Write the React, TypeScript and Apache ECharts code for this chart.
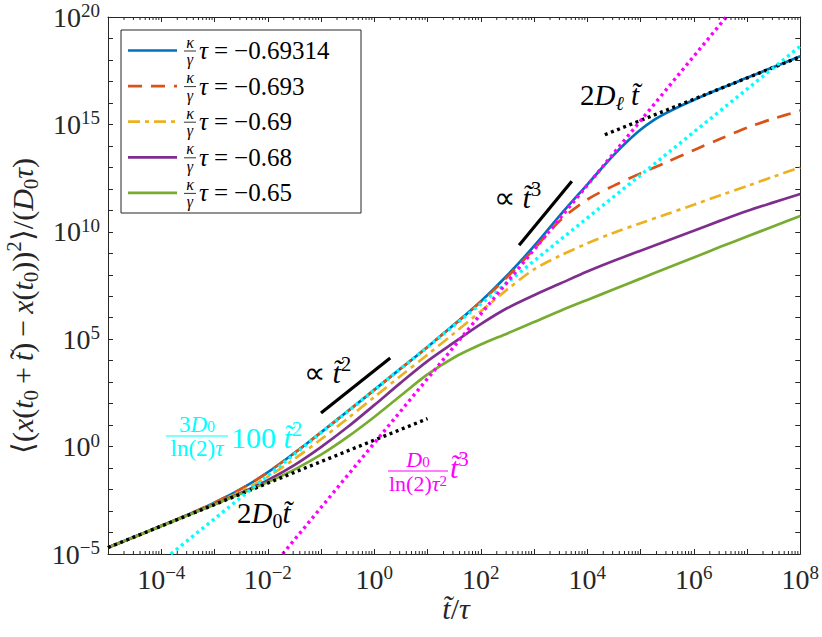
import React, { useEffect, useRef } from 'react';
import * as echarts from 'echarts';

// log10 of t/tau
const logT = [-5, -4.5, -4, -3.5, -3, -2.5, -2, -1.5, -1, -0.5, 0, 0.5, 1, 1.5, 2, 2.5, 3, 3.5, 4, 4.5, 5, 5.5, 6, 6.5, 7, 7.5, 8];
// finer sampling for the critical curve around its crossover
const logTCritical = [-5, -4.5, -4, -3.5, -3, -2.5, -2, -1.5, -1, -0.5, 0, 0.5, 1, 1.5, 2, 2.5, 3, 3.5, 4, 4.25, 4.5, 4.75, 5, 5.25, 5.5, 5.75, 6, 6.5, 7, 7.5, 8];
// log10 of MSD/(D0 tau) for each kappa/gamma*tau
const msd069314 = [-4.7, -4.2, -3.69, -3.17, -2.61, -1.97, -1.2, -0.3, 0.66, 1.645, 2.64, 3.64, 4.64, 5.68, 6.76, 7.98, 9.33, 10.8, 12.2, 12.9, 13.58, 14.2, 14.75, 15.2, 15.55, 15.86, 16.14, 16.67, 17.17, 17.67, 18.17];
const msd0693 = [-4.7, -4.2, -3.69, -3.17, -2.61, -1.97, -1.2, -0.3, 0.66, 1.645, 2.64, 3.64, 4.64, 5.68, 6.74, 7.9, 9.2, 10.55, 11.5, 12.15, 12.72, 13.25, 13.8, 14.33, 14.85, 15.27, 15.64];
const msd069 = [-4.7, -4.2, -3.695, -3.186, -2.658, -2.08, -1.4, -0.58, 0.342, 1.31, 2.305, 3.3, 4.28, 5.28, 6.3, 7.32, 8.25, 8.9, 9.46, 9.96, 10.4, 10.83, 11.26, 11.7, 12.13, 12.57, 13.0];
const msd068 = [-4.7, -4.2, -3.7, -3.19, -2.683, -2.15, -1.56, -0.86, -0.022, 0.91, 1.93, 2.98, 3.98, 4.85, 5.7, 6.45, 7.05, 7.6, 8.15, 8.65, 9.12, 9.58, 10.05, 10.52, 10.97, 11.37, 11.76];
const msd065 = [-4.7, -4.2, -3.7, -3.2, -2.695, -2.184, -1.654, -1.07, -0.377, 0.452, 1.38, 2.38, 3.36, 4.15, 4.75, 5.27, 5.8, 6.33, 6.83, 7.32, 7.82, 8.32, 8.8, 9.3, 9.78, 10.26, 10.74];

// guide lines (log10 endpoints)
const diffT = [-5, 1];
const diffY = [-4.7, 1.3];
const cyanT = [-3.82, 8];
const cyanY = [-5, 18.64];
const magT = [-1.72, 6.61];
const magY = [-5, 20];
const longT = [4.33, 8];
const longY = [14.52, 18.15];
const sq2T = [-1.0, 0.3];
const sq2Y = [1.56, 4.12];
const cu3T = [2.72, 3.71];
const cu3Y = [9.37, 12.35];

const legendValues = ['−0.69314', '−0.693', '−0.69', '−0.68', '−0.65'];
const xLabelExps = [-4, -2, 0, 2, 4, 6, 8];
const yLabelExps = [-5, 0, 5, 10, 15, 20];
const minorMantissas = [2, 3, 4, 5, 6, 7, 8, 9];
const xDecades = [-5, -4, -3, -2, -1, 0, 1, 2, 3, 4, 5, 6, 7];

const FONT = "'Liberation Serif', 'Times New Roman', serif";
const AX = '#262626';
const COLORS = ['#0072BD', '#D95319', '#EDB120', '#7E2F8E', '#77AC30'];
const DASHES: any[] = ['solid', [14, 9], [12, 5, 4, 5], 'solid', 'solid'];

function rich(size: number, color: string, L: number) {
  const s = Math.round(size * 0.7);
  const hSub = Math.max(1, L - 0.6 * size);
  const hSup = Math.max(1, L - 0.72 * size);
  const base = { fontFamily: FONT, fill: color, color };
  return {
    n: { ...base, fontSize: size, lineHeight: L },
    i: { ...base, fontSize: size, fontStyle: 'italic', lineHeight: L },
    op: { ...base, fontSize: size, lineHeight: L, padding: [0, 6, 0, 6] },
    sb: { ...base, fontSize: s, lineHeight: hSub, verticalAlign: 'bottom' },
    sbi: { ...base, fontSize: s, fontStyle: 'italic', lineHeight: hSub, verticalAlign: 'bottom' },
    sp: { ...base, fontSize: s, lineHeight: hSup, verticalAlign: 'top' },
  };
}

function txt(x: number, y: number, text: string, size: number, color: string, align = 'left', rotation = 0, lh = 0) {
  const L = lh || Math.round(size * 1.25);
  return {
    type: 'text',
    x,
    y,
    rotation,
    z: 100,
    style: { text, rich: rich(size, color, L), align, verticalAlign: 'middle', fill: color, fontFamily: FONT, fontSize: size },
  };
}

function pts(t: number[], y: number[]) {
  return t.map((v, i) => [v, y[i]]);
}

export default function App() {
  const ref = useRef<HTMLDivElement>(null);
  useEffect(() => {
    document.body.style.margin = '0';
    const chart = echarts.init(ref.current!, null, { renderer: 'svg' });

    const curves = [msd069314, msd0693, msd069, msd068, msd065];
    const grids = [logTCritical, logT, logT, logT, logT];
    const curveSeries = curves.map((c, k) => ({
      type: 'line',
      data: pts(grids[k], c),
      showSymbol: false,
      smooth: 0.3,
      silent: true,
      z: 2 + k * 0.01,
      lineStyle: { color: COLORS[k], width: 2.7, type: DASHES[k], cap: 'butt' },
    }));

    const dotted = (t: number[], y: number[], color: string) => ({
      type: 'line',
      data: pts(t, y),
      showSymbol: false,
      silent: true,
      z: 4,
      lineStyle: { color, width: 3.4, type: [3, 3.6], cap: 'butt' },
    });
    const solid = (t: number[], y: number[]) => ({
      type: 'line',
      data: pts(t, y),
      showSymbol: false,
      silent: true,
      z: 4,
      lineStyle: { color: '#000', width: 3.2 },
    });

    const minorVals: number[][] = [];
    xDecades.forEach((d) => minorMantissas.forEach((m) => minorVals.push([d + Math.log10(m), -5])));

    const minorSeries = {
      type: 'custom',
      silent: true,
      z: 5,
      clip: false,
      data: minorVals,
      renderItem: (params: any, api: any) => {
        const v = api.value(0);
        const b = api.coord([v, -5]);
        const t = api.coord([v, 20]);
        return {
          type: 'group',
          children: [
            { type: 'line', shape: { x1: b[0], y1: b[1], x2: b[0], y2: b[1] - 3 }, style: { stroke: AX, lineWidth: 1 } },
            { type: 'line', shape: { x1: t[0], y1: t[1], x2: t[0], y2: t[1] + 3 }, style: { stroke: AX, lineWidth: 1 } },
          ],
        };
      },
    };

    const fmtExp = (e: number) => `{b|10}{s|${e < 0 ? '−' + -e : e}}`;
    const labelRich = {
      b: { fontFamily: FONT, fontSize: 28, lineHeight: 32, color: AX },
      s: { fontFamily: FONT, fontSize: 19, lineHeight: 12, verticalAlign: 'top', color: AX },
    };

    const baseX = {
      type: 'value',
      min: -5,
      max: 8,
      interval: 1,
      splitLine: { show: false },
      axisLine: { show: true, onZero: false, lineStyle: { color: AX, width: 1 } },
      axisTick: { show: true, inside: true, length: 5, lineStyle: { color: AX, width: 1 } },
    };
    const baseY = {
      type: 'value',
      min: -5,
      max: 20,
      interval: 1,
      splitLine: { show: false },
      axisLine: { show: true, onZero: false, lineStyle: { color: AX, width: 1 } },
      axisTick: { show: true, inside: true, length: 5, lineStyle: { color: AX, width: 1 } },
    };

    const rowY = (k: number) => 50.5 + k * 35.6;
    const legendGraphics: any[] = [
      { type: 'rect', shape: { x: 121, y: 30, width: 240, height: 183 }, style: { fill: '#fff', stroke: AX, lineWidth: 1 }, z: 90 },
    ];
    legendValues.forEach((val, k) => {
      const y = rowY(k);
      legendGraphics.push({
        type: 'line',
        z: 95,
        shape: { x1: 128, y1: y, x2: 177, y2: y },
        style: { stroke: COLORS[k], lineWidth: 2.7, lineDash: DASHES[k] === 'solid' ? null : DASHES[k], lineCap: 'butt' },
      });
      legendGraphics.push(txt(190, y - 8.5, '{i|κ}', 16, '#000', 'center', 0, 12));
      legendGraphics.push(txt(190, y + 9, '{i|γ}', 16, '#000', 'center', 0, 12));
      legendGraphics.push({ type: 'line', z: 95, shape: { x1: 184, y1: y + 0.5, x2: 196, y2: y + 0.5 }, style: { stroke: '#000', lineWidth: 0.8 } });
      legendGraphics.push(txt(199, y, `{i|τ}{op|=}{n|${val}}`, 25, '#000', 'left', 0, 26));
    });

    const annotations: any[] = [
      txt(580, 95, '{n|2}{i|D}{sbi|ℓ}{i| t̃}', 29, '#000'),
      txt(494, 197, '{n|∝ }{i|t̃}{sp|3}', 30, '#000'),
      txt(304, 372, '{n|∝ }{i|t̃}{sp|2}', 30, '#000'),
      txt(237, 513, '{n|2}{i|D}{sb|0}{i|t̃}', 29, '#000'),
      // cyan label
      txt(197, 424, '{n|3}{i|D}{sb|0}', 23, '#00FFFF', 'center', 0, 21),
      { type: 'line', z: 95, shape: { x1: 166, y1: 436, x2: 228, y2: 436 }, style: { stroke: '#00FFFF', lineWidth: 1 } },
      txt(197, 448, '{n|ln(2)}{i|τ}', 23, '#00FFFF', 'center', 0, 21),
      txt(231, 437, '{n|100 }{i|t̃}{sp|2}', 30, '#00FFFF'),
      // magenta label
      txt(418, 459, '{i|D}{sb|0}', 22, '#FF00FF', 'center', 0, 20),
      { type: 'line', z: 95, shape: { x1: 388, y1: 471, x2: 448, y2: 471 }, style: { stroke: '#FF00FF', lineWidth: 1 } },
      txt(418, 483, '{n|ln(2)}{i|τ}{sp|2}', 22, '#FF00FF', 'center', 0, 20),
      txt(450, 467, '{i|t̃}{sp|3}', 30, '#FF00FF'),
      // axis titles
      txt(456, 608, '{i|t̃}{n|/}{i|τ}', 30, AX, 'center'),
      txt(
        22,
        306,
        '{n|⟨(}{i|x}{n|(}{i|t}{sb|0}{op|+}{i|t̃}{n|)}{op|−}{i|x}{n|(}{i|t}{sb|0}{n|))}{sp|2}{n|⟩/(}{i|D}{sb|0}{i|τ}{n|)}',
        30,
        AX,
        'center',
        Math.PI / 2
      ),
    ];

    chart.setOption({
      animation: false,
      backgroundColor: '#fff',
      grid: { left: 108, top: 17, width: 694, height: 537, containLabel: false },
      xAxis: [
        {
          ...baseX,
          position: 'bottom',
          axisLabel: {
            margin: 9,
            formatter: (v: number) => (xLabelExps.includes(Math.round(v)) ? fmtExp(Math.round(v)) : ''),
            rich: labelRich,
            showMinLabel: true,
            showMaxLabel: true,
          },
        },
        { ...baseX, position: 'top', axisLabel: { show: false } },
      ],
      yAxis: [
        {
          ...baseY,
          position: 'left',
          axisLabel: {
            margin: 8,
            formatter: (v: number) => (yLabelExps.includes(Math.round(v)) ? fmtExp(Math.round(v)) : ''),
            rich: labelRich,
            showMinLabel: true,
            showMaxLabel: true,
          },
        },
        { ...baseY, position: 'right', axisLabel: { show: false } },
      ],
      series: [
        ...curveSeries,
        dotted(diffT, diffY, '#000'),
        dotted(longT, longY, '#000'),
        dotted(cyanT, cyanY, '#00FFFF'),
        dotted(magT, magY, '#FF00FF'),
        solid(sq2T, sq2Y),
        solid(cu3T, cu3Y),
        minorSeries,
      ],
      graphic: [...legendGraphics, ...annotations],
    });
    return () => chart.dispose();
  }, []);
  return <div ref={ref} style={{ width: 822, height: 637 }} />;
}
